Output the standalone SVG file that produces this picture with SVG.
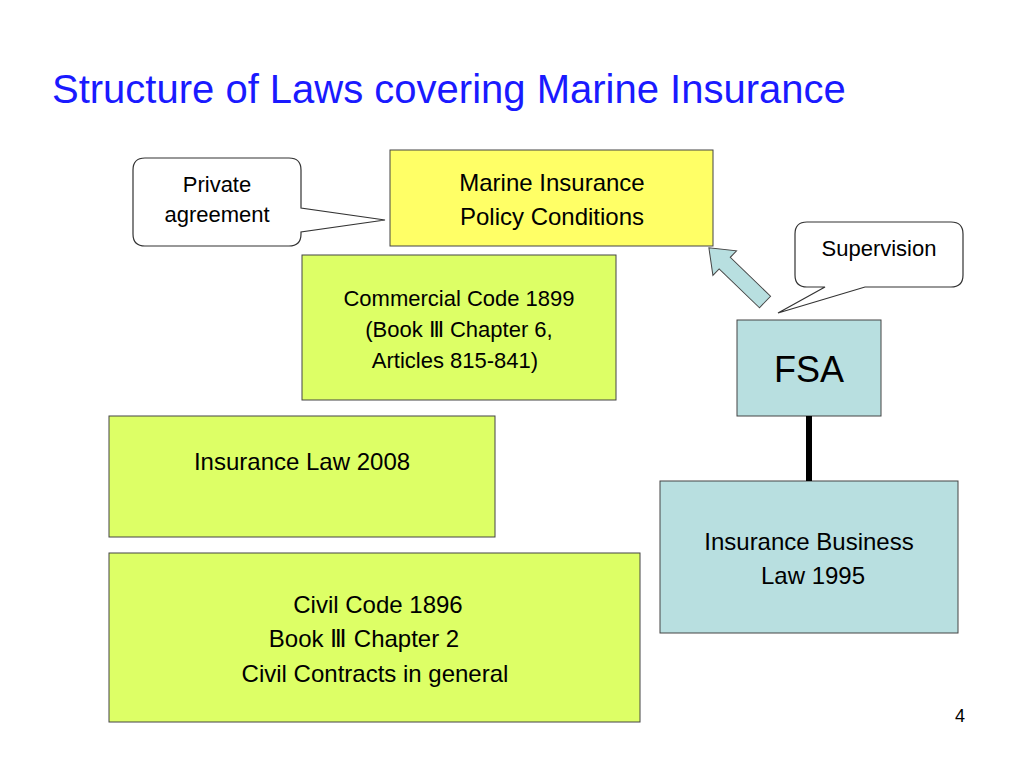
<svg xmlns="http://www.w3.org/2000/svg" width="1024" height="768" viewBox="0 0 1024 768">
<style>
text{font-family:"Liberation Sans",Arial,sans-serif;fill:#000}
.g{fill:#ddff66;stroke:#444;stroke-width:1}
.b{fill:#b8dfe0;stroke:#444;stroke-width:1}
.c{fill:#fff;stroke:#333;stroke-width:1.2}
</style>
<rect width="1024" height="768" fill="#fff"/>
<text x="52" y="103" font-size="40" style="fill:#1a1aff">Structure of Laws covering Marine Insurance</text>
<g id="private">
<path class="c" d="M145,158 H289 Q301,158 301,170 V208 L385,220 L301,232 V234 Q301,246 289,246 H145 Q133,246 133,234 V170 Q133,158 145,158 Z"/>
<text x="217" y="192" font-size="22" text-anchor="middle">Private</text>
<text x="217" y="222" font-size="22" text-anchor="middle">agreement</text>
</g>
<g id="policy">
<rect x="390" y="150" width="323" height="96" fill="#ffff66" stroke="#444"/>
<text x="552" y="191" font-size="24" text-anchor="middle">Marine Insurance</text>
<text x="552" y="225" font-size="24" text-anchor="middle">Policy Conditions</text>
</g>
<g id="supervision">
<path class="c" d="M807,222 H951 Q963,222 963,234 V275 Q963,287 951,287 H865 L778,313 L825,287 H807 Q795,287 795,275 V234 Q795,222 807,222 Z"/>
<text x="879" y="256" font-size="22" text-anchor="middle">Supervision</text>
</g>
<g id="commercial">
<rect class="g" x="302" y="255" width="314" height="145"/>
<text x="459" y="306" font-size="22" text-anchor="middle">Commercial Code  1899</text>
<text x="459" y="337" font-size="22" text-anchor="middle">(Book Ⅲ Chapter 6,</text>
<text x="455" y="368" font-size="22" text-anchor="middle">Articles 815-841)</text>
</g>
<g id="fsa">
<rect class="b" x="737" y="320" width="144" height="96"/>
<text x="809" y="382" font-size="36" text-anchor="middle">FSA</text>
</g>
<g id="insurancelaw">
<rect class="g" x="109" y="416" width="386" height="121"/>
<text x="302" y="470" font-size="24" text-anchor="middle">Insurance Law  2008</text>
</g>
<g id="ibl">
<rect class="b" x="660" y="481" width="298" height="152"/>
<text x="809" y="550" font-size="24" text-anchor="middle">Insurance Business</text>
<text x="813" y="584" font-size="24" text-anchor="middle">Law 1995</text>
</g>
<g id="civil">
<rect class="g" x="109" y="553" width="531" height="169"/>
<text x="378" y="613" font-size="24" text-anchor="middle">Civil Code 1896</text>
<text x="364" y="647" font-size="24" text-anchor="middle">Book Ⅲ  Chapter 2</text>
<text x="375" y="682" font-size="24" text-anchor="middle">Civil Contracts in general</text>
</g>
<g id="connectors">
<line x1="809" y1="416" x2="809" y2="481" stroke="#000" stroke-width="6"/>
<path class="b" transform="translate(765,302) rotate(-136)" d="M0,-8 H56 V-17 L78,0 L56,17 V8 H0 Z"/>
</g>
<text x="960" y="722" font-size="18" text-anchor="middle">4</text>
</svg>
